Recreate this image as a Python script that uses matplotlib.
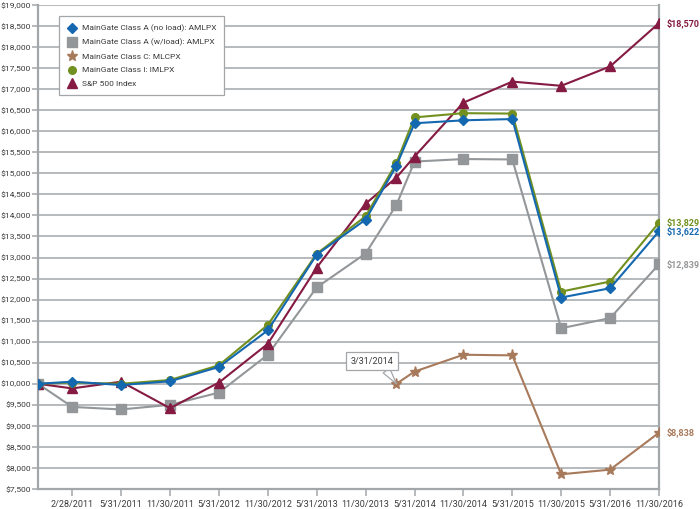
import matplotlib
matplotlib.use('Agg')
import matplotlib.pyplot as plt
from matplotlib.lines import Line2D
from matplotlib.ticker import FuncFormatter

# no condensed face on the box; Roboto is the narrowest of the installed ones
plt.rcParams['font.family'] = ['Roboto', 'DejaVu Sans']

# tick dates (category positions 1..13), plus inception at left edge and 3/31/2014
tick_labels = ['2/28/2011', '5/31/2011', '11/30/2011', '5/31/2012', '11/30/2012',
               '5/31/2013', '11/30/2013', '5/31/2014', '11/30/2014', '5/31/2015',
               '11/30/2015', '5/31/2016', '11/30/2016']
x_pos = [0.3, 1, 2, 3, 4, 5, 6, 7, 7.63, 8, 9, 10, 11, 12, 13]
x_pos_c = [7.63, 8, 9, 10, 11, 12, 13]

class_a = [10000, 10050, 9970, 10060, 10400, 11270, 13070, 13900, 15180,
           16190, 16260, 16290, 12050, 12270, 13622]
class_a_load = [10000, 9450, 9390, 9500, 9790, 10690, 12290, 13095, 14250,
                15280, 15340, 15330, 11320, 11560, 12839]
class_c = [10000, 10290, 10690, 10675, 7850, 7960, 8838]
class_i = [10000, 10030, 10000, 10090, 10440, 11400, 13090, 13980, 15250,
           16330, 16430, 16420, 12190, 12430, 13829]
sp500 = [10000, 9890, 10050, 9420, 10030, 10950, 12760, 14280, 14900,
         15400, 16680, 17180, 17080, 17540, 18570]

names = ['MainGate Class A (no load): AMLPX', 'MainGate Class A (w/load): AMLPX',
         'MainGate Class C: MLCPX', 'MainGate Class I: IMLPX', 'S&P 500 Index']
end_labels = ['$13,622', '$12,839', '$8,838', '$13,829', '$18,570']

blue = '#1468b0'
grey = '#94979a'
brown = '#a87a5c'
green = '#72901f'
maroon = '#851a42'
grid_c = '#a3a7aa'
txt_c = '#3a3a3a'
fs = 6.5
fs_leg = 6.0

fig = plt.figure(figsize=(7, 5.09), dpi=100)
ax = fig.add_axes([38 / 700, 20 / 509, 621 / 700, 484 / 509])

ax.set_xlim(0.3, 13)
ax.set_ylim(7500, 19000)
yt = list(range(7500, 19001, 500))
ax.set_yticks(yt)
ax.yaxis.set_major_formatter(FuncFormatter(lambda v, p: '${:,.0f}'.format(v)))
ax.set_xticks(range(1, 14))
ax.set_xticklabels(tick_labels)
for y in yt[1:]:
    ax.axhline(y, color=grid_c, lw=1.1, zorder=1)

ax.spines['top'].set_visible(False)
for s in ['left', 'bottom', 'right']:
    ax.spines[s].set_color(grid_c)
    ax.spines[s].set_linewidth(1.6)
ax.tick_params(axis='both', colors=grid_c, labelcolor=txt_c, labelsize=fs,
               width=1.1, length=5)
ax.tick_params(axis='x', pad=3)
ax.tick_params(axis='y', pad=0.8, labelsize=6.1, length=4.5)

lw = 1.5
ax.plot(x_pos, class_a_load, color=grey, lw=lw, marker='s', ms=6.5, zorder=3)
ax.plot(x_pos_c, class_c, color=brown, lw=lw, marker='*', ms=8, zorder=3)
ax.plot(x_pos, sp500, color=maroon, lw=lw, marker='^', ms=7, zorder=3)
ax.plot(x_pos, class_i, color=green, lw=lw, marker='o', ms=5.5, zorder=4)
ax.plot(x_pos, class_a, color=blue, lw=lw, marker='D', ms=5.5, zorder=5)

ends = [class_a[-1], class_a_load[-1], class_c[-1], class_i[-1], sp500[-1]]
cols = [blue, grey, brown, green, maroon]
for v, t, c in zip(ends, end_labels, cols):
    ax.annotate(t, xy=(13, v), xytext=(5.5, 0), textcoords='offset points',
                color=c, fontsize=fs, fontweight='bold', va='center', ha='left',
                annotation_clip=False)

ax.annotate('3/31/2014', xy=(7.63, 10000), xytext=(7.13, 10540),
            fontsize=fs, color=txt_c, ha='center', va='center',
            bbox=dict(boxstyle='square,pad=0.5', fc='white', ec=grid_c, lw=0.9),
            arrowprops=dict(arrowstyle='wedge,tail_width=0.9', fc='white',
                            ec=grid_c, lw=0.9, relpos=(0.75, 0.0),
                            shrinkA=0, shrinkB=0),
            zorder=6)

handles = [
    Line2D([], [], ls='none', marker='D', ms=5.5, color=blue),
    Line2D([], [], ls='none', marker='s', ms=6.5, color=grey),
    Line2D([], [], ls='none', marker='*', ms=8, color=brown),
    Line2D([], [], ls='none', marker='o', ms=5.5, color=green),
    Line2D([], [], ls='none', marker='^', ms=7, color=maroon),
]
leg = ax.legend(handles, names, loc='upper left', bbox_to_anchor=(0.034, 0.977),
                borderaxespad=0, fancybox=False, fontsize=fs_leg, labelspacing=0.8,
                handlelength=1.0, handletextpad=0.7, borderpad=1.0,
                edgecolor=grid_c, framealpha=1)
leg.get_frame().set_linewidth(0.9)
for t in leg.get_texts():
    t.set_color(txt_c)

fig.savefig('out.png', dpi=100)
